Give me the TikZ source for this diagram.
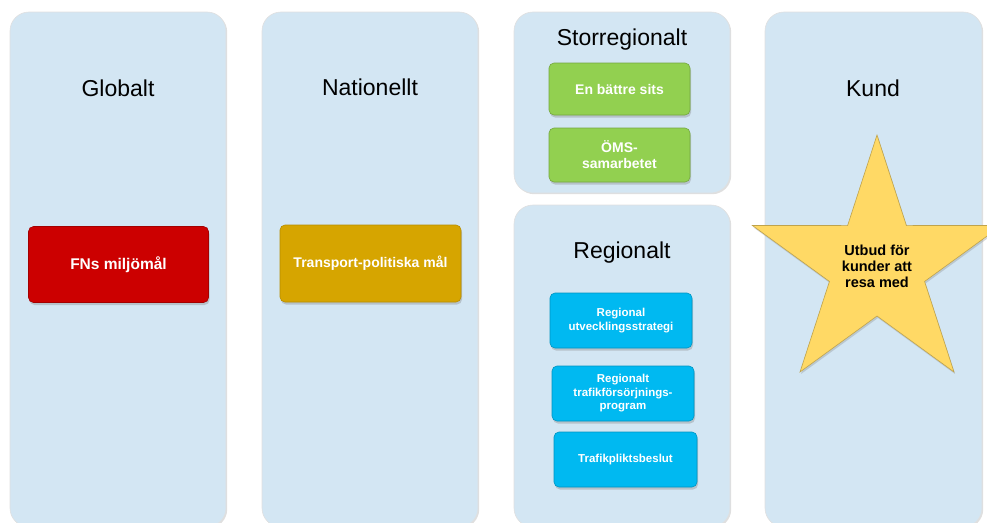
\documentclass[tikz,border=0pt]{standalone}
\usepackage{fontspec}
\setmainfont{Liberation Sans}
\usetikzlibrary{shapes.geometric,shadows}
\definecolor{panelc}{HTML}{D3E6F3}
\definecolor{redc}{HTML}{CC0000}
\definecolor{goldc}{HTML}{D6A500}
\definecolor{greenc}{HTML}{92D050}
\definecolor{bluec}{HTML}{00B9F1}
\definecolor{starc}{HTML}{FFD965}
\tikzset{
  panel/.style={fill=panelc, draw=black!12, line width=0.6pt, rounded corners=19pt,
    drop shadow={shadow xshift=1.2pt, shadow yshift=-1.2pt, opacity=0.25}},
  ptitle/.style={font=\fontsize{23}{27}\selectfont, text=black},
  boxbase/.style={rectangle, rounded corners=5pt, align=center, font=\bfseries, text=white,
    line width=0.6pt, drop shadow={shadow xshift=1pt, shadow yshift=-2.5pt, opacity=0.35}},
  redbox/.style={boxbase, fill=redc, draw=redc!80!black, font=\bfseries\fontsize{15.5}{18}\selectfont},
  goldbox/.style={boxbase, fill=goldc, draw=goldc!85!black, font=\bfseries\fontsize{14}{17}\selectfont},
  greenbox/.style={boxbase, fill=greenc, draw=greenc!80!black, font=\bfseries\fontsize{14}{16}\selectfont},
  bluebox/.style={boxbase, fill=bluec, draw=bluec!80!black, font=\bfseries\fontsize{11.5}{13.5}\selectfont},
}
\begin{document}
\begin{tikzpicture}[x=1pt,y=-1pt]
\useasboundingbox (0,0) rectangle (987,522);
\fill[white] (0,0) rectangle (987,522);
% panels
\path[panel] (10,12) rectangle (226,527);
\path[panel] (262,12) rectangle (478,527);
\path[panel] (514,12) rectangle (730,193);
\path[panel] (514,205) rectangle (730,527);
\path[panel] (765,12) rectangle (982,527);
% titles
\node[ptitle] (tglob) at (118,88) {Globalt};
\node[ptitle] (tnat) at (370,87) {Nationellt};
\node[ptitle] (tstor) at (622,40) {Storregionalt};
\node[ptitle] (treg) at (622,253) {Regionalt};
\node[ptitle] (tkund) at (873,88) {Kund};
% boxes
\node[redbox, minimum width=180pt, minimum height=76pt] (fn) at (118.5,264.5) {FNs miljömål};
\node[goldbox, minimum width=181pt, minimum height=77pt] (tp) at (370.5,263.5) {Transport-politiska mål};
\node[greenbox, minimum width=141pt, minimum height=52pt] (eb) at (619.5,89) {En bättre sits};
\node[greenbox, minimum width=141pt, minimum height=54pt] (oms) at (619.5,155) {ÖMS-\\samarbetet};
\node[bluebox, minimum width=142pt, minimum height=55pt] (rus) at (621,320.5) {Regional\\utvecklingsstrategi};
\node[bluebox, minimum width=142pt, minimum height=55pt] (rtp) at (623,393.5) {Regionalt\\trafikförsörjnings-\\program};
\node[bluebox, minimum width=143pt, minimum height=55pt] (tpb) at (625.5,459.5) {Trafikpliktsbeslut};
% star
\node[star, star points=5, star point ratio=2.62, minimum size=262pt, inner sep=0pt,
  fill=starc, draw=starc!75!black, line width=0.6pt, align=center,
  font=\bfseries\fontsize{14.5}{16}\selectfont, text=black,
  drop shadow={shadow xshift=1pt, shadow yshift=-2pt, opacity=0.3}] (star) at (877,266) {Utbud för\\kunder att\\resa med};
\end{tikzpicture}
\end{document}
